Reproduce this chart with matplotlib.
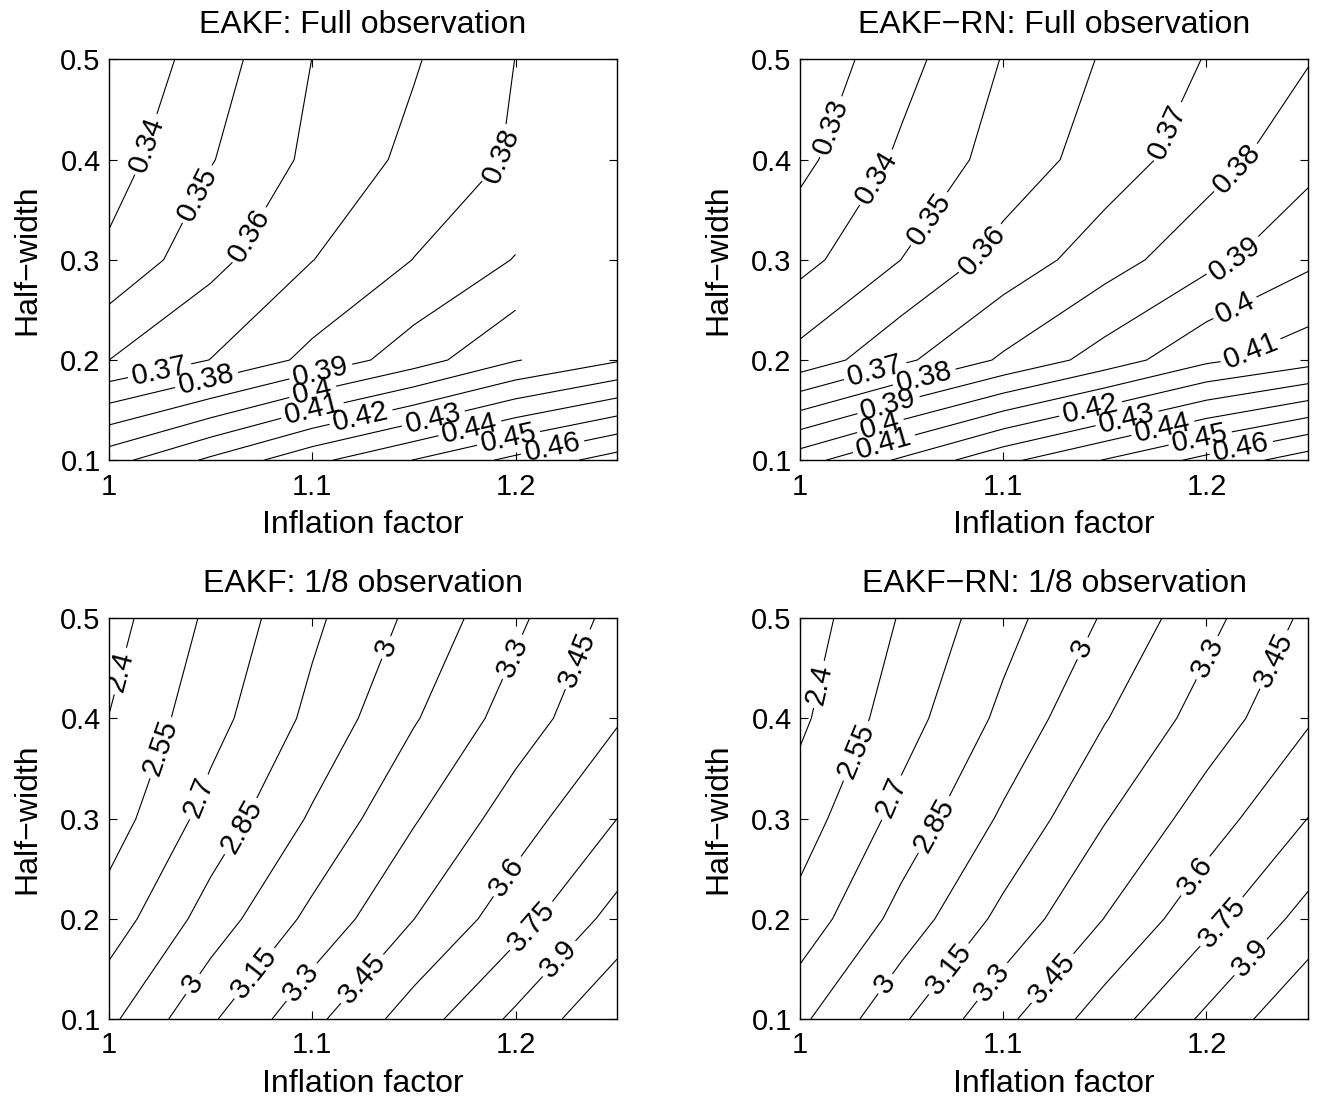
import numpy as np
import matplotlib
matplotlib.use('Agg')
import matplotlib.pyplot as plt

plt.rcParams['font.family'] = ['Liberation Sans', 'DejaVu Sans']

# grid of the experiments
infl = [1.0, 1.05, 1.1, 1.15, 1.2, 1.25]
half_width = [0.1, 0.2, 0.3, 0.4, 0.5]

# rmse, rows = half-width, columns = inflation (nan = not run)
eakf_full = [
    [0.4063, 0.4219, 0.4374, 0.4503, 0.4626, 0.4745],
    [0.3600, 0.3702, 0.3828, 0.3953, 0.4094, 0.4190],
    [0.3420, 0.3569, 0.3698, 0.3802, 0.3905, np.nan],
    [0.3355, 0.3494, 0.3623, 0.3726, 0.3812, np.nan],
    [0.3305, 0.3452, 0.3601, 0.3691, 0.3801, np.nan],
]
eakfrn_full = [
    [0.4060, 0.4216, 0.4375, 0.4505, 0.4629, 0.4753],
    [0.3535, 0.3679, 0.3815, 0.3944, 0.4080, 0.4160],
    [0.3367, 0.3501, 0.3638, 0.3754, 0.3870, 0.3979],
    [0.3273, 0.3419, 0.3540, 0.3647, 0.3755, 0.3869],
    [0.3223, 0.3365, 0.3505, 0.3610, 0.3705, 0.3794],
]
eakf_eighth = [
    [2.8165, 3.1290, 3.4117, 3.6734, 3.9316, 4.1900],
    [2.6170, 2.9165, 3.1900, 3.4486, 3.6880, 3.9560],
    [2.4756, 2.7570, 3.0203, 3.2860, 3.5270, 3.7500],
    [2.4025, 2.6440, 2.8877, 3.1364, 3.3700, 3.5850],
    [2.3410, 2.5800, 2.8195, 3.0340, 3.2676, 3.5016],
]
eakfrn_eighth = [
    [2.8170, 3.1277, 3.4122, 3.6766, 3.9290, 4.1880],
    [2.6030, 2.9058, 3.1933, 3.4536, 3.7045, 3.9556],
    [2.4740, 2.7527, 3.0245, 3.2909, 3.5250, 3.7520],
    [2.3710, 2.6326, 2.8852, 3.1412, 3.3659, 3.5830],
    [2.3184, 2.5635, 2.7950, 3.0167, 3.2540, 3.4830],
]

levels_full = [0.33, 0.34, 0.35, 0.36, 0.37, 0.38, 0.39, 0.40,
               0.41, 0.42, 0.43, 0.44, 0.45, 0.46, 0.47]
levels_eighth = [2.4, 2.55, 2.7, 2.85, 3.0, 3.15, 3.3, 3.45,
                 3.6, 3.75, 3.9, 4.05]

titles = ['EAKF: Full observation', 'EAKF\u2212RN: Full observation',
          'EAKF: 1/8 observation', 'EAKF\u2212RN: 1/8 observation']

# where the contour labels sit
lab_tl = [(1.020, 0.414), (1.043, 0.366), (1.068, 0.326), (1.195, 0.403),
          (1.025, 0.188), (1.048, 0.180), (1.104, 0.190), (1.100, 0.170),
          (1.100, 0.150), (1.124, 0.143), (1.160, 0.138), (1.178, 0.128),
          (1.197, 0.118), (1.218, 0.115)]
lab_tr = [(1.015, 0.433), (1.037, 0.383), (1.062, 0.343), (1.090, 0.309),
          (1.180, 0.429), (1.216, 0.389), (1.215, 0.299), (1.215, 0.248),
          (1.222, 0.208), (1.037, 0.189), (1.061, 0.184), (1.043, 0.159),
          (1.039, 0.138), (1.041, 0.119), (1.143, 0.151), (1.161, 0.141),
          (1.179, 0.128), (1.197, 0.121), (1.217, 0.114)]
lab_bl = [(1.006, 0.447), (1.025, 0.371), (1.045, 0.321), (1.066, 0.291),
          (1.136, 0.471), (1.199, 0.461), (1.233, 0.457), (1.039, 0.138),
          (1.070, 0.148), (1.094, 0.138), (1.124, 0.141), (1.194, 0.245),
          (1.205, 0.198), (1.221, 0.161)]
lab_br = [(1.009, 0.434), (1.027, 0.368), (1.045, 0.321), (1.066, 0.294),
          (1.138, 0.471), (1.200, 0.461), (1.235, 0.457), (1.040, 0.138),
          (1.070, 0.155), (1.094, 0.138), (1.124, 0.141), (1.193, 0.245),
          (1.207, 0.198), (1.222, 0.161)]

panels = [
    (eakf_full, levels_full, lab_tl, [0.082, 0.582, 0.382, 0.364]),
    (eakfrn_full, levels_full, lab_tr, [0.6015, 0.582, 0.382, 0.364]),
    (eakf_eighth, levels_eighth, lab_bl, [0.082, 0.0745, 0.382, 0.364]),
    (eakfrn_eighth, levels_eighth, lab_br, [0.6015, 0.0745, 0.382, 0.364]),
]


def fmt(v):
    return '%g' % round(v, 2)


fig = plt.figure(figsize=(13.3, 11.01), dpi=100)
X, Y = np.meshgrid(infl, half_width)

for i, (z, lev, labpos, rect) in enumerate(panels):
    ax = fig.add_axes(rect)
    Z = np.ma.masked_invalid(np.array(z))
    cs = ax.contour(X, Y, Z, levels=lev, colors='k', linewidths=0.8,
                    corner_mask=False)
    ax.clabel(cs, manual=labpos, inline=True, inline_spacing=4,
              fmt=fmt, fontsize=21)
    ax.set_xlim(1, 1.25)
    ax.set_ylim(0.1, 0.5)
    ax.set_xticks([1, 1.1, 1.2])
    ax.set_xticklabels(['1', '1.1', '1.2'])
    ax.set_yticks([0.1, 0.2, 0.3, 0.4, 0.5])
    ax.set_yticklabels(['0.1', '0.2', '0.3', '0.4', '0.5'])
    ax.tick_params(direction='in', top=True, right=True, length=6,
                   labelsize=21)
    ax.tick_params(axis='x', pad=9)
    ax.tick_params(axis='y', pad=6)
    for s in ax.spines.values():
        s.set_linewidth(1.0)
    ax.set_title(titles[i], fontsize=23, pad=19)
    ax.set_xlabel('Inflation factor', fontsize=23, labelpad=7)
    ax.set_ylabel('Half\u2212width', fontsize=23, labelpad=13)

fig.savefig('out.png', dpi=100)
